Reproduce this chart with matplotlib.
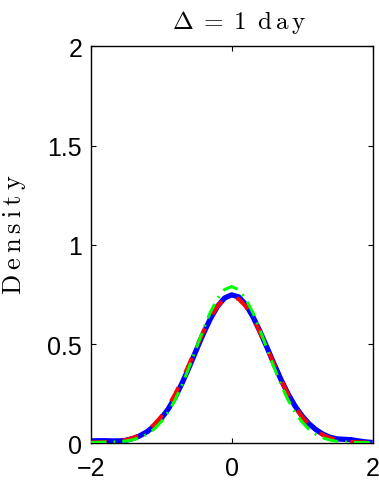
import numpy as np
import matplotlib
matplotlib.use("Agg")
import matplotlib.pyplot as plt

# === datos ===
x = np.round(np.arange(-2.0, 2.01, 0.1), 1)

# curva azul (continua)
dens_blue = [0.012, 0.013, 0.013, 0.012, 0.012, 0.015, 0.024, 0.038, 0.058, 0.086,
             0.124, 0.172, 0.232, 0.305, 0.385, 0.470, 0.553, 0.628, 0.690, 0.732,
             0.748, 0.738, 0.700, 0.640, 0.566, 0.485, 0.402, 0.322, 0.250, 0.188,
             0.138, 0.098, 0.068, 0.045, 0.030, 0.022, 0.020, 0.018, 0.012, 0.007,
             0.004]

# curva roja (discontinua)
dens_red = [0.005, 0.005, 0.006, 0.008, 0.011, 0.017, 0.027, 0.042, 0.064, 0.094,
            0.134, 0.185, 0.248, 0.321, 0.400, 0.483, 0.563, 0.635, 0.692, 0.728,
            0.740, 0.727, 0.691, 0.634, 0.562, 0.482, 0.399, 0.320, 0.247, 0.184,
            0.133, 0.093, 0.063, 0.041, 0.026, 0.016, 0.010, 0.007, 0.005, 0.005,
            0.005]

# curva verde (punto-raya)
dens_green = [0.004, 0.005, 0.006, 0.007, 0.008, 0.011, 0.018, 0.028, 0.045, 0.071,
              0.108, 0.157, 0.220, 0.297, 0.386, 0.480, 0.575, 0.661, 0.730, 0.775,
              0.790, 0.774, 0.729, 0.660, 0.574, 0.479, 0.385, 0.296, 0.219, 0.156,
              0.107, 0.070, 0.044, 0.027, 0.016, 0.010, 0.007, 0.005, 0.004, 0.004,
              0.004]

xticks = [-2, 0, 2]
xticklabels = ["\u22122", "0", "2"]
yticks = [0, 0.5, 1, 1.5, 2]
yticklabels = ["0", "0.5", "1", "1.5", "2"]

# === figura ===
plt.rcParams["mathtext.fontset"] = "cm"
plt.rcParams["font.family"] = ["Liberation Sans", "DejaVu Sans"]

fig = plt.figure(figsize=(3.79, 4.81), dpi=100)
ax = fig.add_axes([0.239, 0.0763, 0.744, 0.825])

ax.plot(x, dens_blue, color="#0000ff", lw=3.8, solid_capstyle="butt", zorder=2)
ax.plot(x, dens_red, color="#ff0000", lw=2.9, dashes=(4.0, 4.0),
        dash_capstyle="butt", zorder=3)
ax.plot(x, dens_green, color="#00ff00", lw=2.2, dashes=(5.2, 2.3, 0.6, 2.3),
        dash_capstyle="butt", zorder=3)

ax.set_xlim(-2, 2)
ax.set_ylim(0, 2)
ax.set_xticks(xticks)
ax.set_xticklabels(xticklabels)
ax.set_yticks(yticks)
ax.set_yticklabels(yticklabels)
ax.tick_params(direction="in", length=3.6, width=0.8, top=True, right=True,
               labelsize=18)
ax.tick_params(axis="y", pad=6)
ax.tick_params(axis="x", pad=9)
for s in ax.spines.values():
    s.set_linewidth(1.0)

ax.set_title(r"$\Delta\;=\;1\;\;\mathrm{d\,a\,y}$", fontsize=18, pad=13, x=0.528)
ax.set_ylabel(r"$\mathrm{D\:e\:n\:s\:i\:t\:y}$", fontsize=19)
ax.yaxis.set_label_coords(-0.222, 0.528)

fig.savefig("out.png", dpi=100)
